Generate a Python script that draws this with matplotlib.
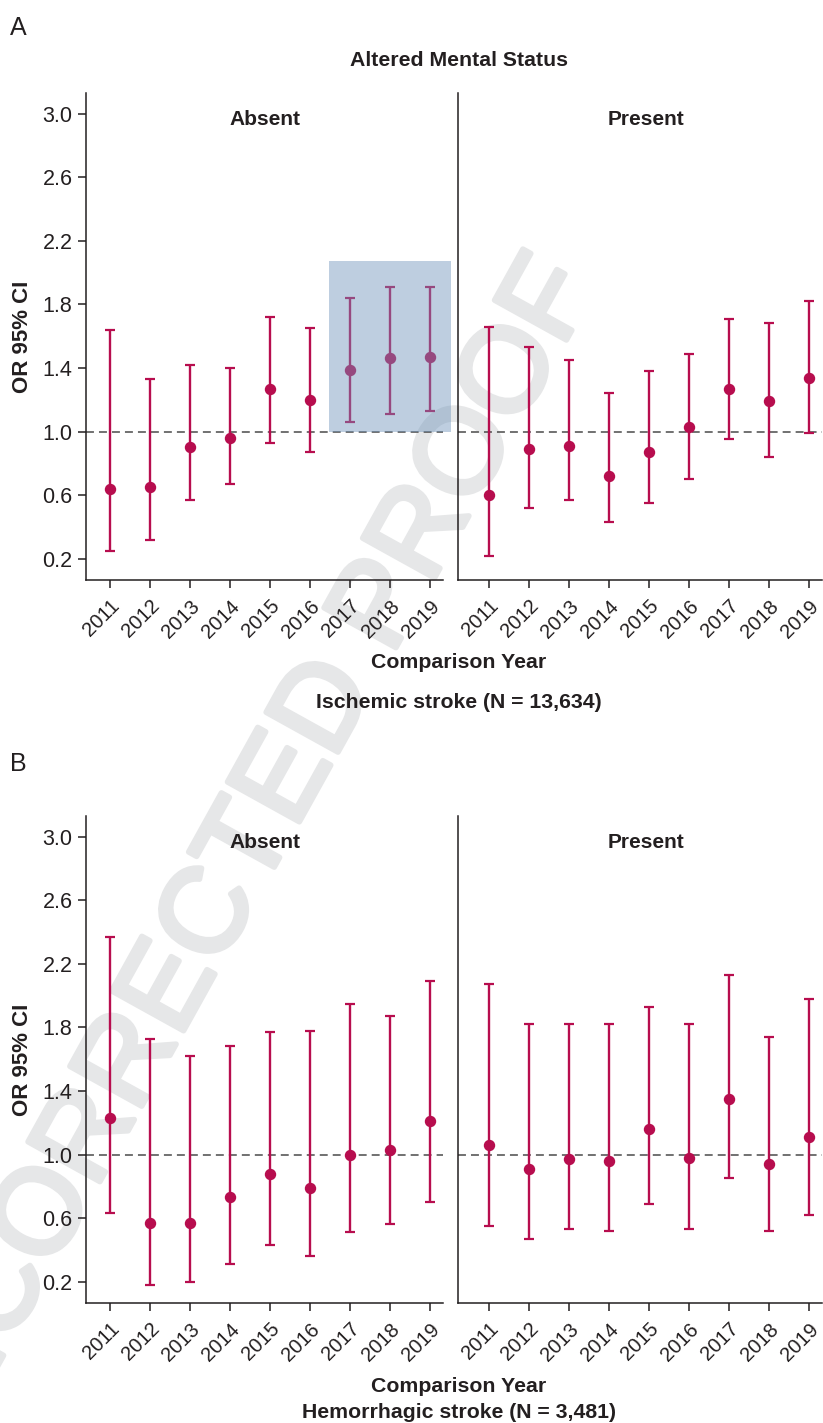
import matplotlib
matplotlib.use("Agg")
import matplotlib.pyplot as plt
import matplotlib.patheffects as pe
from matplotlib.patches import Rectangle

plt.rcParams['font.family'] = ['Liberation Sans', 'DejaVu Sans']

# data (OR with 95% CI per comparison year)
years = [2011, 2012, 2013, 2014, 2015, 2016, 2017, 2018, 2019]

a_absent_or = [0.64, 0.65, 0.90, 0.96, 1.27, 1.20, 1.39, 1.46, 1.47]
a_absent_lo = [0.25, 0.32, 0.57, 0.67, 0.93, 0.87, 1.06, 1.11, 1.13]
a_absent_hi = [1.64, 1.33, 1.42, 1.40, 1.72, 1.65, 1.84, 1.91, 1.91]

a_present_or = [0.60, 0.89, 0.91, 0.72, 0.87, 1.03, 1.27, 1.19, 1.34]
a_present_lo = [0.22, 0.52, 0.57, 0.43, 0.55, 0.70, 0.95, 0.84, 0.99]
a_present_hi = [1.66, 1.53, 1.45, 1.24, 1.38, 1.49, 1.71, 1.68, 1.82]

b_absent_or = [1.23, 0.57, 0.57, 0.73, 0.88, 0.79, 1.00, 1.03, 1.21]
b_absent_lo = [0.63, 0.18, 0.20, 0.31, 0.43, 0.36, 0.51, 0.56, 0.70]
b_absent_hi = [2.37, 1.73, 1.62, 1.68, 1.77, 1.78, 1.95, 1.87, 2.09]

b_present_or = [1.06, 0.91, 0.97, 0.96, 1.16, 0.98, 1.35, 0.94, 1.11]
b_present_lo = [0.55, 0.47, 0.53, 0.52, 0.69, 0.53, 0.85, 0.52, 0.62]
b_present_hi = [2.07, 1.82, 1.82, 1.82, 1.93, 1.82, 2.13, 1.74, 1.98]

highlight_years = [2017, 2018, 2019]   # shaded block in panel A, absent
highlight_top = 2.07

y_ticks = [0.2, 0.6, 1.0, 1.4, 1.8, 2.2, 2.6, 3.0]

RED = '#b70d4e'
INK = '#231f20'
WM = '#e6e7e8'
W, H = 823, 1423

fig = plt.figure(figsize=(W / 100, H / 100), dpi=100)


def px_axes(x0, x1, y0, y1):
    ax = fig.add_axes([x0 / W, 1 - y1 / H, (x1 - x0) / W, (y1 - y0) / H])
    ax.set_facecolor('none')
    return ax


def draw_panel(ax, orr, lo, hi, label, label_x, first):
    yerr = [[o - l for o, l in zip(orr, lo)], [h - o for o, h in zip(orr, hi)]]
    ax.axhline(1.0, color='#4a4a4a', lw=1.1, dashes=(5.2, 3.3), zorder=1, clip_on=False)
    ax.errorbar(years, orr, yerr=yerr, fmt='o', color=RED, ms=7.2, elinewidth=1.7,
                capsize=3.4, capthick=1.6, zorder=3)
    ax.set_ylim(0.066, 3.13)
    ax.set_yticks(y_ticks)
    ax.set_xticks(years)
    ax.set_xticklabels([str(y) for y in years], rotation=45, ha='right', va='top',
                       rotation_mode='anchor', fontsize=14.5, color=INK)
    for s in ['top', 'right']:
        ax.spines[s].set_visible(False)
    for s in ['left', 'bottom']:
        ax.spines[s].set_color(INK)
        ax.spines[s].set_linewidth(1.1)
    ax.tick_params(axis='x', length=5.8, width=1.1, color=INK, pad=6)
    if first:
        ax.set_yticklabels([f'{v:.1f}' for v in y_ticks], fontsize=15.5, color=INK)
        ax.tick_params(axis='y', length=5.8, width=1.1, color=INK, pad=4)
        ax.set_ylabel('OR 95% CI', fontsize=16, fontweight='bold', color=INK, labelpad=7)
    else:
        ax.tick_params(axis='y', left=False, labelleft=False)
    ax.text(label_x, 0.945, label, transform=ax.transAxes, ha='center', va='center',
            fontsize=15, fontweight='bold', color=INK)


# watermark behind everything
fig.text(261 / W, 1 - 891 / H, 'UNCORRECTED PROOF', rotation=61, rotation_mode='anchor',
         ha='center', va='baseline', fontsize=86, color=WM, zorder=-1,
         path_effects=[pe.withStroke(linewidth=4, foreground=WM)])

for top, bottom, sets, tag, tag_y, xl_y, title_y, subtitle in [
    (93, 580, (a_absent_or, a_absent_lo, a_absent_hi, a_present_or, a_present_lo, a_present_hi),
     'A', 28, 663, 702, 'Ischemic stroke (N = 13,634)'),
    (816, 1303, (b_absent_or, b_absent_lo, b_absent_hi, b_present_or, b_present_lo, b_present_hi),
     'B', 764, 1387, 1413, 'Hemorrhagic stroke (N = 3,481)'),
]:
    ax1 = px_axes(86, 443, top, bottom)
    ax2 = px_axes(458, 822, top, bottom)
    draw_panel(ax1, *sets[:3], 'Absent', 0.5, True)
    draw_panel(ax2, *sets[3:], 'Present', 0.516, False)
    ax1.set_xlim(2010.4, 2019.33)
    ax2.set_xlim(2010.22, 2019.33)

    fig.text(10 / W, 1 - tag_y / H, tag, fontsize=18, color=INK, va='center', ha='left')
    fig.text(459 / W, 1 - xl_y / H, 'Comparison Year', fontsize=15.3, fontweight='bold',
             color=INK, ha='center', va='center')
    fig.text(459 / W, 1 - title_y / H, subtitle, fontsize=15.3, fontweight='bold',
             color=INK, ha='center', va='center')

    if tag == 'A':
        x0 = min(highlight_years) - 0.525
        ax1.add_patch(Rectangle((x0, 1.0), max(highlight_years) - min(highlight_years) + 1.05,
                                highlight_top - 1.0, facecolor='#6f94bb', alpha=0.45,
                                edgecolor='none', zorder=4, clip_on=False))

fig.text(459 / W, 1 - 60 / H, 'Altered Mental Status', fontsize=15.3, fontweight='bold',
         color=INK, ha='center', va='center')

fig.savefig('out.png', dpi=100)
